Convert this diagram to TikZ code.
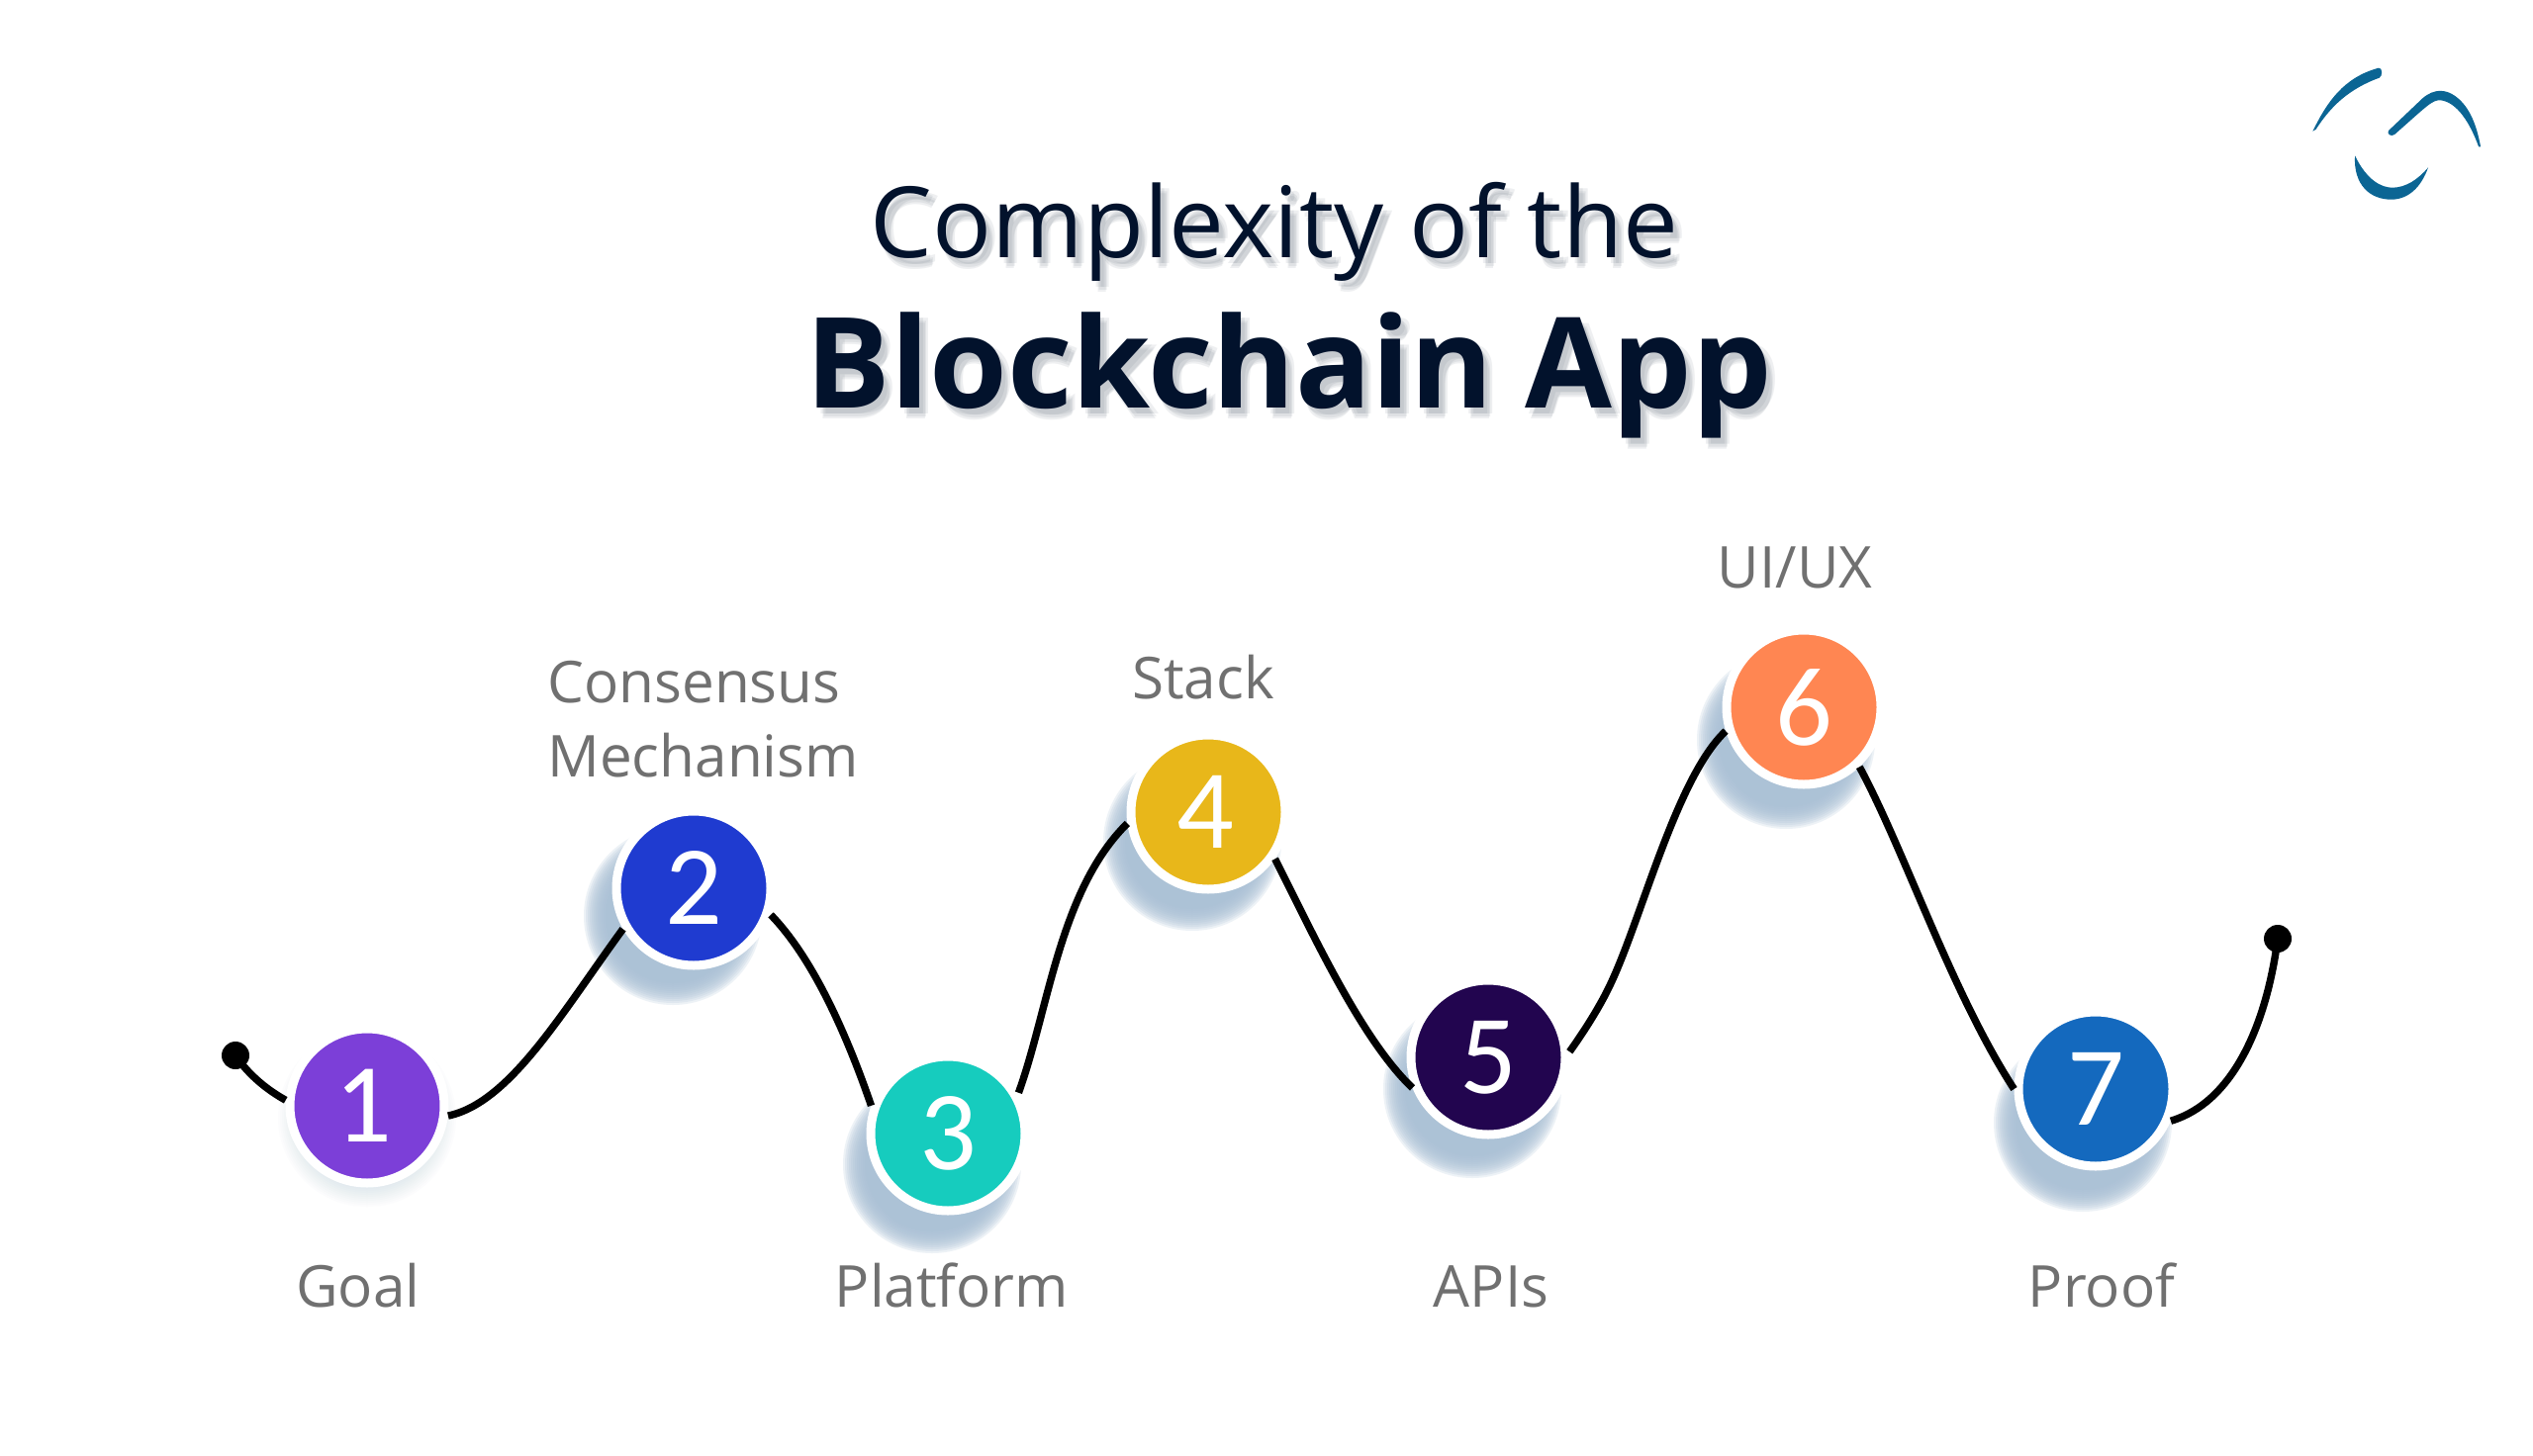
\documentclass[tikz,border=0pt]{standalone}
\usepackage{fontspec}
\setmainfont{Open Sans}
\newfontfamily\digitfont{Carlito}
\tikzset{
  stop/.style={circle,fill=black,inner sep=0pt,minimum size=14pt},
  stepnode/.style={circle,draw=white,line width=4.5pt,minimum size=78pt,inner sep=0pt,text=white,font=\digitfont\fontsize{57}{57}\selectfont},
  wave/.style={line width=3.7pt,black},
  lab/.style={anchor=base,inner sep=0pt,text=labgrey,font=\fontsize{29.2}{37.5}\selectfont},
  titlea/.style={anchor=base,inner sep=0pt,font=\fontsize{49.8}{50}\selectfont},
  titleb/.style={anchor=base,inner sep=0pt,font=\bfseries\fontsize{63.7}{64}\selectfont},
  tshadow/.style={text=tshade,opacity=.1},
  logo/.style={fill=logoblue,draw=none},
}
\definecolor{labgrey}{HTML}{707070}
\definecolor{navy}{HTML}{02122C}
\definecolor{logoblue}{HTML}{0B6594}
\definecolor{shadowblue}{HTML}{A8BFD5}
\definecolor{tshade}{HTML}{5F6B78}
\definecolor{c1}{HTML}{7C3FD8}
\definecolor{c2}{HTML}{1F3BD0}
\definecolor{c3}{HTML}{16CCBE}
\definecolor{c4}{HTML}{E8B71A}
\definecolor{c5}{HTML}{22054F}
\definecolor{c6}{HTML}{FF8652}
\definecolor{c7}{HTML}{1469BE}
\begin{document}
\begin{tikzpicture}[x=0.5pt,y=-0.5pt]
\useasboundingbox[fill=white] (0,0) rectangle (2560,1472);
% title shadows
\foreach \dx/\dy in {4/6,7/9,9/6,6/11}{
  \node[titlea,tshadow] at (1288+\dx,260+\dy) {Complexity of the};
  \node[titleb,tshadow] at (1303+\dx,412+\dy) {Blockchain App};
}
\node[titlea,text=navy] (t1) at (1288,260) {Complexity of the};
\node[titleb,text=navy] (t2) at (1303,412) {Blockchain App};
% disc shadows
\foreach \r in {90,88,...,68}{
  \fill[shadowblue,opacity=.03] (371,1130) circle[radius=\r];
}
\foreach \x/\y in {680/926,942/1177,1205/851,1488/1101,1805/748,2105/1135}{
  \foreach \r in {90,88,...,68}{
    \fill[shadowblue,opacity=.2] (\x,\y) circle[radius=\r];
  }
}
% discs
\foreach \n/\x/\y/\k in {1/371/1118/-4,2/701/898/0,3/958/1146/0,4/1221/821/-3,5/1504/1069/0,6/1823/715/0,7/2118/1101/0}{
  \node[stepnode,fill=c\n] (n\n) at (\x,\y) {\kern\k pt\n};
}
\node[stop] (s) at (238,1067) {};
\node[stop] (e) at (2302,949) {};
% connectors
\draw[wave] (s.center) .. controls (252,1088) and (272,1103) .. (n1.176);
\draw[wave] (n1.-7) .. controls (515,1115) and (567,1025) .. (n2.210);
\draw[wave] (n2.-19) .. controls (818,965) and (852,1035) .. (n3.160);
\draw[wave] (n3.30) .. controls (1060,1020) and (1071,900) .. (n4.188);
\draw[wave] (n4.-35) .. controls (1325,940) and (1375,1050) .. (n5.202);
\draw[wave] (n5.4) .. controls (1605,1037) and (1620,1012) .. (1629,992) .. controls (1660,925) and (1695,785) .. (n6.197);
\draw[wave] (n6.-47) .. controls (1925,860) and (1972,1003) .. (n7.180);
\draw[wave] (n7.-23) .. controls (2255,1115) and (2290,1040) .. (e.center);
% labels
\node[lab] (l1) at (362,1321) {Goal};
\node[lab,align=left,anchor=base west] (l2) at (553,785) {Consensus\\Mechanism};
\node[lab] (l3) at (962,1321) {Platform};
\node[lab] (l4) at (1216,706) {Stack};
\node[lab] (l5) at (1507,1321) {APIs};
\node[lab] (l6) at (1814,594) {UI/UX};
\node[lab] (l7) at (2124,1321) {Proof};
% logo
\begin{scope}[shift={(2280,40)},x=0.1667pt,y=-0.1667pt]
\fill[logo] (172,278) .. controls (215,190) and (265,115) .. (372,86) .. controls (384,84) and (384,112) .. (374,116) .. controls (280,150) and (225,205) .. (182,272) -- cycle;
\fill[logo] (402,276) -- (505,178) .. controls (540,148) and (575,150) .. (605,172) .. controls (650,205) and (670,265) .. (681,325) -- (675,325) .. controls (650,255) and (610,190) .. (560,184) .. controls (535,182) and (520,200) .. (420,288) .. controls (410,296) and (395,286) .. (402,276) -- cycle;
\fill[logo] (300,352) .. controls (335,425) and (380,450) .. (415,449) .. controls (455,448) and (490,425) .. (522,388) .. controls (500,450) and (460,485) .. (410,485) .. controls (345,485) and (295,440) .. (300,352) -- cycle;
\end{scope}
\end{tikzpicture}
\end{document}
